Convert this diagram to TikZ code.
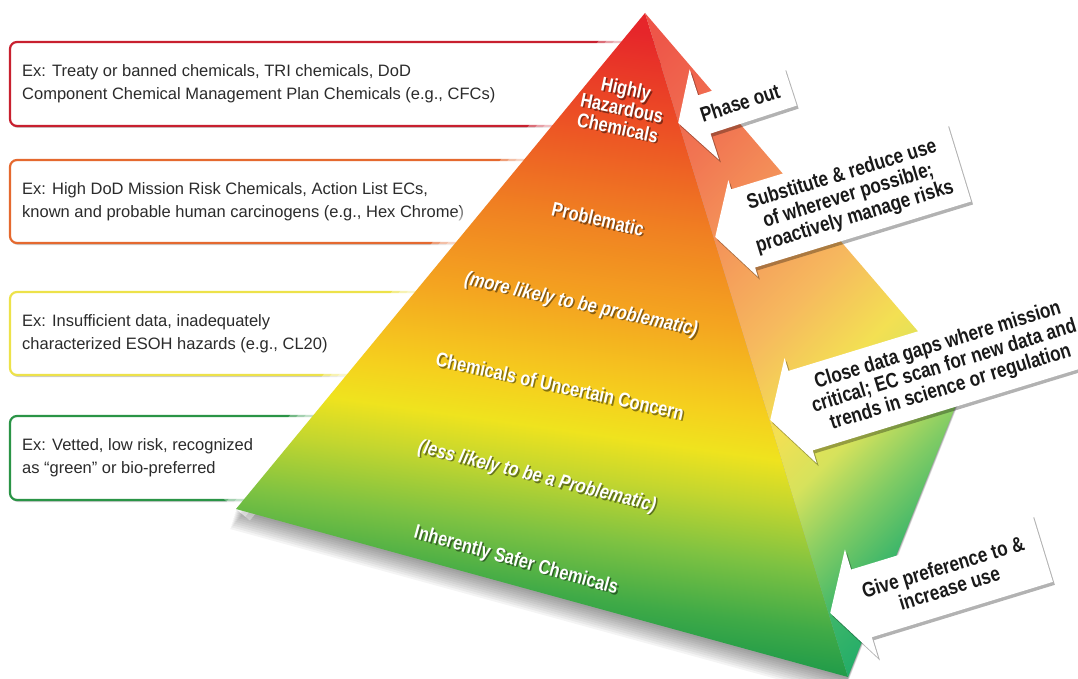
\documentclass[tikz,border=0pt]{standalone}
\usepackage{fontspec}
\setmainfont{Liberation Sans}
\newfontfamily\condfont[FakeStretch=0.82]{Liberation Sans}
\usetikzlibrary{shapes.arrows,shadows}

\definecolor{boxred}{HTML}{C8202F}
\definecolor{boxorange}{HTML}{E5692F}
\definecolor{boxyellow}{HTML}{EDE24A}
\definecolor{boxgreen}{HTML}{2A9446}
\definecolor{textgray}{HTML}{2B2B2B}
% front face
\definecolor{f01}{HTML}{0B8E47}
\definecolor{f02}{HTML}{1A984A}
\definecolor{f03}{HTML}{3FAA47}
\definecolor{f04}{HTML}{7DC242}
\definecolor{f05}{HTML}{C3D62F}
\definecolor{f06}{HTML}{EFE31E}
\definecolor{f07}{HTML}{F5D01E}
\definecolor{f08}{HTML}{F4A520}
\definecolor{f09}{HTML}{F08122}
\definecolor{f10}{HTML}{EC4E25}
\definecolor{f11}{HTML}{E6262A}
\definecolor{f12}{HTML}{E21F2A}
% right face
\definecolor{r01}{HTML}{12A266}
\definecolor{r02}{HTML}{1AA968}
\definecolor{r03}{HTML}{3CB66A}
\definecolor{r04}{HTML}{82CC64}
\definecolor{r05}{HTML}{D6E25C}
\definecolor{r06}{HTML}{F3E053}
\definecolor{r07}{HTML}{F6B95E}
\definecolor{r08}{HTML}{F4965A}
\definecolor{r09}{HTML}{F17552}
\definecolor{r10}{HTML}{EE5749}
\definecolor{r11}{HTML}{EC4A44}

\pgfdeclareverticalshading{frontshade}{100bp}{color(0bp)=(f01); color(25bp)=(f01);
  color(31.8bp)=(f02); color(34.7bp)=(f03); color(38.1bp)=(f04); color(41.5bp)=(f05);
  color(44bp)=(f06); color(46.3bp)=(f07); color(51.1bp)=(f08); color(56bp)=(f09);
  color(61.9bp)=(f10); color(67bp)=(f11); color(75bp)=(f12); color(100bp)=(f12)}
\pgfdeclareverticalshading{rightshade}{100bp}{color(0bp)=(r01); color(25.2bp)=(r01);
  color(29.6bp)=(r02); color(34bp)=(r03); color(37.5bp)=(r04); color(41.1bp)=(r05);
  color(44.6bp)=(r06); color(49.5bp)=(r07); color(55.2bp)=(r08); color(60.5bp)=(r09);
  color(67.1bp)=(r10); color(73.8bp)=(r11); color(100bp)=(r11)}

\tikzset{
  exbox/.style={rounded corners=7pt, line width=2.2pt, fill=white,
    drop shadow={shadow xshift=1pt, shadow yshift=-2pt, fill=black, opacity=.2}},
  extext/.style={anchor=west, align=left, inner sep=0pt, text=textgray,
    font=\fontsize{16.5}{23}\selectfont},
  pyrtext/.style={text=white, align=center, inner sep=0pt,
    font=\condfont\bfseries\fontsize{20}{20}\selectfont},
  pyrshadow/.style={pyrtext, text=black, opacity=.45, xshift=1.5pt, yshift=-1.5pt},
  callout/.style={single arrow, shape border rotate=180, anchor=tip, fill=white,
    single arrow tip angle=120, align=center, inner sep=2pt, text=black!90,
    font=\condfont\bfseries\fontsize{21}{22}\selectfont,
    drop shadow={shadow xshift=2pt, shadow yshift=-3pt, fill=black, opacity=.3}}
}

\begin{document}
\begin{tikzpicture}[x=1pt,y=-1pt]
    \useasboundingbox (0,0) rectangle (1078,679);
    \fill[white] (0,0) rectangle (1078,679);

    % example boxes (right ends hidden by the pyramid)
    \draw[exbox, draw=boxred]    (10,42)  rectangle (660,126);
    \draw[exbox, draw=boxorange] (10,160) rectangle (660,243);
    \draw[exbox, draw=boxyellow] (10,292) rectangle (660,375);
    \draw[exbox, draw=boxgreen]  (10,416) rectangle (660,500);

    \node[extext] (ex1) at (22,84)  {Ex: Treaty or banned chemicals, TRI chemicals, DoD\\Component Chemical Management Plan Chemicals (e.g., CFCs)};
    \node[extext] (ex2) at (22,202) {Ex: High DoD Mission Risk Chemicals, Action List ECs,\\known and probable human carcinogens (e.g., Hex Chrome)};
    \node[extext] (ex3) at (22,334) {Ex: Insufficient data, inadequately\\characterized ESOH hazards (e.g., CL20)};
    \node[extext] (ex4) at (22,458) {Ex: Vetted, low risk, recognized\\as ``green'' or bio-preferred};

    % pyramid
    \coordinate (apex) at (645,13);
    \coordinate (lb) at (236,509);
    \coordinate (fb) at (848,677);
    \coordinate (rc) at (964,385);

    \foreach \d in {2,4,...,20}
        \fill[black,opacity=.045] ([shift={(-0.3*\d,\d)}]apex) -- ([shift={(-0.3*\d,\d)}]lb)
            -- ([shift={(-0.3*\d,\d)}]fb) -- ([shift={(-0.3*\d,\d)}]rc) -- cycle;
    \foreach \w in {36,24,12}
        \draw[white,opacity=.35,line width=\w pt] (apex) -- (lb);

    \begin{scope}
        \clip (apex) -- (lb) -- (fb) -- cycle;
        \shade[shading=frontshade, transform canvas={rotate around={-8:(540,340)}}]
            (0,-120) rectangle (1200,760);
    \end{scope}
    \begin{scope}
        \clip (apex) -- (fb) -- (rc) -- cycle;
        \shade[shading=rightshade, transform canvas={rotate around={45:(850,450)}}]
            (0,-100) rectangle (1700,700);
    \end{scope}

    % levels
    \node[pyrshadow, rotate=-12] (hhc-s) at (622,108) {Highly\\Hazardous\\Chemicals};
    \node[pyrtext, rotate=-12] (hhc) at (622,108) {Highly\\Hazardous\\Chemicals};
    \node[pyrshadow, rotate=-13] (prob-s) at (598,219) {Problematic};
    \node[pyrtext, rotate=-13] (prob) at (598,219) {Problematic};
    \node[pyrshadow, rotate=-12.5, font=\condfont\bfseries\itshape\fontsize{20}{20}\selectfont] (more-s) at (581,305) {(more likely to be problematic)};
    \node[pyrtext, rotate=-12.5, font=\condfont\bfseries\itshape\fontsize{20}{20}\selectfont] (more) at (581,305) {(more likely to be problematic)};
    \node[pyrshadow, rotate=-12.5] (unc-s) at (560,386) {Chemicals of Uncertain Concern};
    \node[pyrtext, rotate=-12.5] (unc) at (560,386) {Chemicals of Uncertain Concern};
    \node[pyrshadow, rotate=-14, font=\condfont\bfseries\itshape\fontsize{20}{20}\selectfont] (less-s) at (537,477) {(less likely to be a Problematic)};
    \node[pyrtext, rotate=-14, font=\condfont\bfseries\itshape\fontsize{20}{20}\selectfont] (less) at (537,477) {(less likely to be a Problematic)};
    \node[pyrshadow, rotate=-15.5] (safe-s) at (516,561) {Inherently Safer Chemicals};
    \node[pyrtext, rotate=-15.5] (safe) at (516,561) {Inherently Safer Chemicals};

    % actions
    \node[callout, rotate=18, minimum height=118pt, minimum width=95pt, single arrow head extend=13.5pt] (phase) at (678,123) {Phase out};
    \node[callout, rotate=17, minimum height=255pt, minimum width=101pt, single arrow head extend=8pt] (subst) at (715,237) {Substitute \& reduce use\\of wherever possible;\\proactively manage risks};
    \node[callout, rotate=17, minimum height=340pt, minimum width=110pt, single arrow head extend=11pt] (close) at (770,420) {Close data gaps where mission\\critical; EC scan for new data and\\trends in science or regulation};
    \node[callout, rotate=17, minimum height=222pt, minimum width=113pt, single arrow head extend=12.5pt] (prefer) at (830,613) {Give preference to \&\\increase use};
\end{tikzpicture}
\end{document}
